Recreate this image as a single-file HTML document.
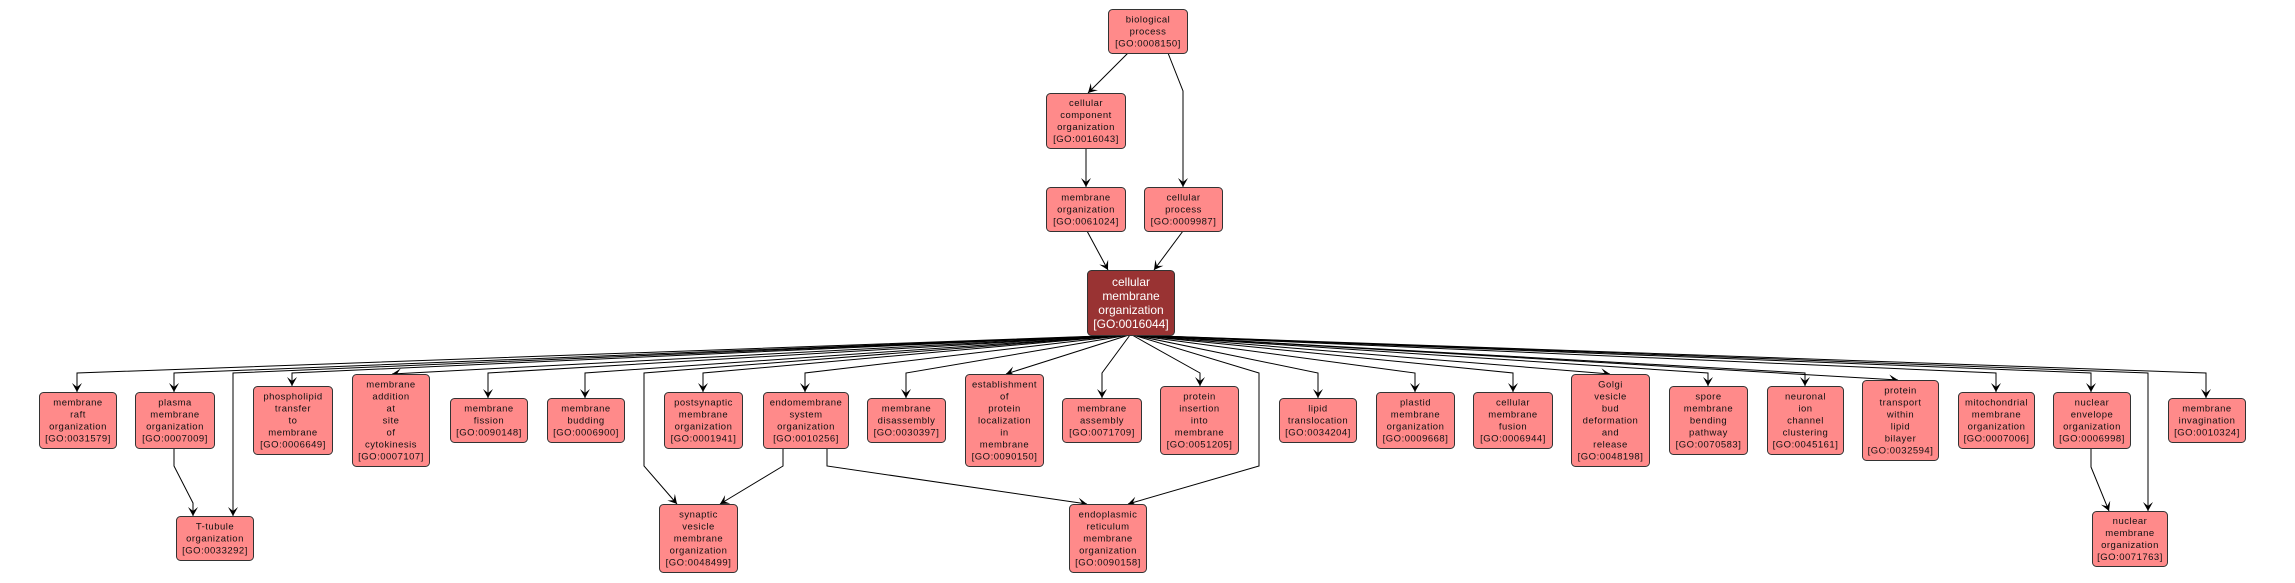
<!DOCTYPE html>
<html>
<head>
<meta charset="utf-8">
<style>
html,body{margin:0;padding:0;background:#fff;}
svg{display:block;}
.n{fill:#ff8a8a;stroke:#333;stroke-width:1;}
.c{fill:#993333;stroke:#333;stroke-width:1;}
.t{font-family:"Liberation Sans",Arial,sans-serif;font-size:9.5px;letter-spacing:0.5px;fill:#111;text-anchor:middle;}
.tc{font-family:"Liberation Sans",Arial,sans-serif;font-size:12px;fill:#fff;text-anchor:middle;}
.e{fill:none;stroke:#000;stroke-width:1;}
</style>
</head>
<body>
<svg width="2295" height="583" viewBox="0 0 2295 583" xmlns="http://www.w3.org/2000/svg">
<defs>
<marker id="a" markerUnits="userSpaceOnUse" markerWidth="12" markerHeight="12" viewBox="-10 -6 11 12" refX="0" refY="0" orient="auto">
<path d="M0,0 L-9,-5 L-5,0 L-9,5 Z" fill="#000"/>
</marker>
</defs>

<!-- edges top -->
<path class="e" marker-end="url(#a)" d="M1128,53 L1088,93"/>
<path class="e" marker-end="url(#a)" d="M1168,53 L1183,91 L1183,187"/>
<path class="e" marker-end="url(#a)" d="M1086,148 L1086,187"/>
<path class="e" marker-end="url(#a)" d="M1087,231 L1108,270"/>
<path class="e" marker-end="url(#a)" d="M1183,231 L1154,270"/>

<!-- edges from center -->
<path class="e" marker-end="url(#a)" d="M1128,335 L77,373 L77,392"/>
<path class="e" marker-end="url(#a)" d="M1128,335 L174,373 L174,392"/>
<path class="e" marker-end="url(#a)" d="M1128,335 L233,373 L233,516"/>
<path class="e" marker-end="url(#a)" d="M1128,335 L292,373 L292,386"/>
<path class="e" marker-end="url(#a)" d="M1128,335 L392,374"/>
<path class="e" marker-end="url(#a)" d="M1128,335 L488,373 L488,398"/>
<path class="e" marker-end="url(#a)" d="M1128,335 L585,373 L585,398"/>
<path class="e" marker-end="url(#a)" d="M1128,335 L644,373 L644,466 L677,504"/>
<path class="e" marker-end="url(#a)" d="M1128,335 L703,373 L703,392"/>
<path class="e" marker-end="url(#a)" d="M1128,335 L805,373 L805,392"/>
<path class="e" marker-end="url(#a)" d="M1129,335 L906,373 L906,398"/>
<path class="e" marker-end="url(#a)" d="M1129,335 L1006,374"/>
<path class="e" marker-end="url(#a)" d="M1130,335 L1102,373 L1102,398"/>
<path class="e" marker-end="url(#a)" d="M1132,335 L1200,373 L1200,386"/>
<path class="e" marker-end="url(#a)" d="M1133,335 L1259,373 L1259,466 L1128,504"/>
<path class="e" marker-end="url(#a)" d="M1133,335 L1318,373 L1318,398"/>
<path class="e" marker-end="url(#a)" d="M1133,335 L1415,373 L1415,392"/>
<path class="e" marker-end="url(#a)" d="M1133,335 L1513,373 L1513,392"/>
<path class="e" marker-end="url(#a)" d="M1133,335 L1610,374"/>
<path class="e" marker-end="url(#a)" d="M1133,335 L1708,373 L1708,386"/>
<path class="e" marker-end="url(#a)" d="M1133,335 L1805,373 L1805,386"/>
<path class="e" marker-end="url(#a)" d="M1133,335 L1898,380"/>
<path class="e" marker-end="url(#a)" d="M1133,335 L1996,373 L1996,392"/>
<path class="e" marker-end="url(#a)" d="M1133,335 L2091,373 L2091,392"/>
<path class="e" marker-end="url(#a)" d="M1133,335 L2148,373 L2148,511"/>
<path class="e" marker-end="url(#a)" d="M1133,335 L2206,373 L2206,398"/>

<!-- other edges -->
<path class="e" marker-end="url(#a)" d="M174,448 L174,466 L193,503 L193,516"/>
<path class="e" marker-end="url(#a)" d="M783,448 L783,466 L720,504"/>
<path class="e" marker-end="url(#a)" d="M827,448 L827,466 L1087,504"/>
<path class="e" marker-end="url(#a)" d="M2091,448 L2091,467 L2109,511"/>

<!-- top nodes -->
<rect class="n" x="1108.5" y="9.5" width="79" height="44" rx="4"/>
<text class="t" y="22.5"><tspan x="1148">biological</tspan><tspan x="1148" dy="12">process</tspan><tspan x="1148" dy="12">[GO:0008150]</tspan></text>

<rect class="n" x="1046.5" y="93.5" width="79" height="55" rx="4"/>
<text class="t" y="106"><tspan x="1086">cellular</tspan><tspan x="1086" dy="12">component</tspan><tspan x="1086" dy="12">organization</tspan><tspan x="1086" dy="12">[GO:0016043]</tspan></text>

<rect class="n" x="1046.5" y="187.5" width="79" height="44" rx="4"/>
<text class="t" y="200.5"><tspan x="1086">membrane</tspan><tspan x="1086" dy="12">organization</tspan><tspan x="1086" dy="12">[GO:0061024]</tspan></text>

<rect class="n" x="1144.5" y="187.5" width="78" height="44" rx="4"/>
<text class="t" y="200.5"><tspan x="1183.5">cellular</tspan><tspan x="1183.5" dy="12">process</tspan><tspan x="1183.5" dy="12">[GO:0009987]</tspan></text>

<rect class="c" x="1087.5" y="270.5" width="87" height="65" rx="4"/>
<text class="tc" y="286"><tspan x="1131">cellular</tspan><tspan x="1131" dy="14">membrane</tspan><tspan x="1131" dy="14">organization</tspan><tspan x="1131" dy="14">[GO:0016044]</tspan></text>

<!-- level 2 -->
<rect class="n" x="39.5" y="392.5" width="77" height="56" rx="4"/>
<text class="t" y="405.5"><tspan x="78">membrane</tspan><tspan x="78" dy="12">raft</tspan><tspan x="78" dy="12">organization</tspan><tspan x="78" dy="12">[GO:0031579]</tspan></text>

<rect class="n" x="135.5" y="392.5" width="79" height="56" rx="4"/>
<text class="t" y="405.5"><tspan x="175">plasma</tspan><tspan x="175" dy="12">membrane</tspan><tspan x="175" dy="12">organization</tspan><tspan x="175" dy="12">[GO:0007009]</tspan></text>

<rect class="n" x="253.5" y="386.5" width="79" height="68" rx="4"/>
<text class="t" y="399.5"><tspan x="293">phospholipid</tspan><tspan x="293" dy="12">transfer</tspan><tspan x="293" dy="12">to</tspan><tspan x="293" dy="12">membrane</tspan><tspan x="293" dy="12">[GO:0006649]</tspan></text>

<rect class="n" x="352.5" y="374.5" width="77" height="92" rx="4"/>
<text class="t" y="387.5"><tspan x="391">membrane</tspan><tspan x="391" dy="12">addition</tspan><tspan x="391" dy="12">at</tspan><tspan x="391" dy="12">site</tspan><tspan x="391" dy="12">of</tspan><tspan x="391" dy="12">cytokinesis</tspan><tspan x="391" dy="12">[GO:0007107]</tspan></text>

<rect class="n" x="450.5" y="398.5" width="77" height="44" rx="4"/>
<text class="t" y="411.5"><tspan x="489">membrane</tspan><tspan x="489" dy="12">fission</tspan><tspan x="489" dy="12">[GO:0090148]</tspan></text>

<rect class="n" x="547.5" y="398.5" width="77" height="44" rx="4"/>
<text class="t" y="411.5"><tspan x="586">membrane</tspan><tspan x="586" dy="12">budding</tspan><tspan x="586" dy="12">[GO:0006900]</tspan></text>

<rect class="n" x="664.5" y="392.5" width="78" height="56" rx="4"/>
<text class="t" y="405.5"><tspan x="703.5">postsynaptic</tspan><tspan x="703.5" dy="12">membrane</tspan><tspan x="703.5" dy="12">organization</tspan><tspan x="703.5" dy="12">[GO:0001941]</tspan></text>

<rect class="n" x="763.5" y="392.5" width="85" height="56" rx="4"/>
<text class="t" y="405.5"><tspan x="806">endomembrane</tspan><tspan x="806" dy="12">system</tspan><tspan x="806" dy="12">organization</tspan><tspan x="806" dy="12">[GO:0010256]</tspan></text>

<rect class="n" x="867.5" y="398.5" width="78" height="44" rx="4"/>
<text class="t" y="411.5"><tspan x="906.5">membrane</tspan><tspan x="906.5" dy="12">disassembly</tspan><tspan x="906.5" dy="12">[GO:0030397]</tspan></text>

<rect class="n" x="965.5" y="374.5" width="78" height="92" rx="4"/>
<text class="t" y="387.5"><tspan x="1004.5">establishment</tspan><tspan x="1004.5" dy="12">of</tspan><tspan x="1004.5" dy="12">protein</tspan><tspan x="1004.5" dy="12">localization</tspan><tspan x="1004.5" dy="12">in</tspan><tspan x="1004.5" dy="12">membrane</tspan><tspan x="1004.5" dy="12">[GO:0090150]</tspan></text>

<rect class="n" x="1062.5" y="398.5" width="79" height="44" rx="4"/>
<text class="t" y="411.5"><tspan x="1102">membrane</tspan><tspan x="1102" dy="12">assembly</tspan><tspan x="1102" dy="12">[GO:0071709]</tspan></text>

<rect class="n" x="1160.5" y="386.5" width="78" height="68" rx="4"/>
<text class="t" y="399.5"><tspan x="1199.5">protein</tspan><tspan x="1199.5" dy="12">insertion</tspan><tspan x="1199.5" dy="12">into</tspan><tspan x="1199.5" dy="12">membrane</tspan><tspan x="1199.5" dy="12">[GO:0051205]</tspan></text>

<rect class="n" x="1279.5" y="398.5" width="77" height="44" rx="4"/>
<text class="t" y="411.5"><tspan x="1318">lipid</tspan><tspan x="1318" dy="12">translocation</tspan><tspan x="1318" dy="12">[GO:0034204]</tspan></text>

<rect class="n" x="1376.5" y="392.5" width="78" height="56" rx="4"/>
<text class="t" y="405.5"><tspan x="1415.5">plastid</tspan><tspan x="1415.5" dy="12">membrane</tspan><tspan x="1415.5" dy="12">organization</tspan><tspan x="1415.5" dy="12">[GO:0009668]</tspan></text>

<rect class="n" x="1473.5" y="392.5" width="79" height="56" rx="4"/>
<text class="t" y="405.5"><tspan x="1513">cellular</tspan><tspan x="1513" dy="12">membrane</tspan><tspan x="1513" dy="12">fusion</tspan><tspan x="1513" dy="12">[GO:0006944]</tspan></text>

<rect class="n" x="1571.5" y="374.5" width="78" height="92" rx="4"/>
<text class="t" y="387.5"><tspan x="1610.5">Golgi</tspan><tspan x="1610.5" dy="12">vesicle</tspan><tspan x="1610.5" dy="12">bud</tspan><tspan x="1610.5" dy="12">deformation</tspan><tspan x="1610.5" dy="12">and</tspan><tspan x="1610.5" dy="12">release</tspan><tspan x="1610.5" dy="12">[GO:0048198]</tspan></text>

<rect class="n" x="1669.5" y="386.5" width="78" height="68" rx="4"/>
<text class="t" y="399.5"><tspan x="1708.5">spore</tspan><tspan x="1708.5" dy="12">membrane</tspan><tspan x="1708.5" dy="12">bending</tspan><tspan x="1708.5" dy="12">pathway</tspan><tspan x="1708.5" dy="12">[GO:0070583]</tspan></text>

<rect class="n" x="1767.5" y="386.5" width="76" height="68" rx="4"/>
<text class="t" y="399.5"><tspan x="1805.5">neuronal</tspan><tspan x="1805.5" dy="12">ion</tspan><tspan x="1805.5" dy="12">channel</tspan><tspan x="1805.5" dy="12">clustering</tspan><tspan x="1805.5" dy="12">[GO:0045161]</tspan></text>

<rect class="n" x="1862.5" y="380.5" width="76" height="80" rx="4"/>
<text class="t" y="393.5"><tspan x="1900.5">protein</tspan><tspan x="1900.5" dy="12">transport</tspan><tspan x="1900.5" dy="12">within</tspan><tspan x="1900.5" dy="12">lipid</tspan><tspan x="1900.5" dy="12">bilayer</tspan><tspan x="1900.5" dy="12">[GO:0032594]</tspan></text>

<rect class="n" x="1958.5" y="392.5" width="76" height="56" rx="4"/>
<text class="t" y="405.5"><tspan x="1996.5">mitochondrial</tspan><tspan x="1996.5" dy="12">membrane</tspan><tspan x="1996.5" dy="12">organization</tspan><tspan x="1996.5" dy="12">[GO:0007006]</tspan></text>

<rect class="n" x="2053.5" y="392.5" width="77" height="56" rx="4"/>
<text class="t" y="405.5"><tspan x="2092">nuclear</tspan><tspan x="2092" dy="12">envelope</tspan><tspan x="2092" dy="12">organization</tspan><tspan x="2092" dy="12">[GO:0006998]</tspan></text>

<rect class="n" x="2168.5" y="398.5" width="77" height="44" rx="4"/>
<text class="t" y="411.5"><tspan x="2207">membrane</tspan><tspan x="2207" dy="12">invagination</tspan><tspan x="2207" dy="12">[GO:0010324]</tspan></text>

<!-- level 3 -->
<rect class="n" x="176.5" y="516.5" width="77" height="44" rx="4"/>
<text class="t" y="529.5"><tspan x="215">T-tubule</tspan><tspan x="215" dy="12">organization</tspan><tspan x="215" dy="12">[GO:0033292]</tspan></text>

<rect class="n" x="659.5" y="504.5" width="78" height="68" rx="4"/>
<text class="t" y="517.5"><tspan x="698.5">synaptic</tspan><tspan x="698.5" dy="12">vesicle</tspan><tspan x="698.5" dy="12">membrane</tspan><tspan x="698.5" dy="12">organization</tspan><tspan x="698.5" dy="12">[GO:0048499]</tspan></text>

<rect class="n" x="1069.5" y="504.5" width="77" height="68" rx="4"/>
<text class="t" y="517.5"><tspan x="1108">endoplasmic</tspan><tspan x="1108" dy="12">reticulum</tspan><tspan x="1108" dy="12">membrane</tspan><tspan x="1108" dy="12">organization</tspan><tspan x="1108" dy="12">[GO:0090158]</tspan></text>

<rect class="n" x="2092.5" y="511.5" width="75" height="55" rx="4"/>
<text class="t" y="524"><tspan x="2130">nuclear</tspan><tspan x="2130" dy="12">membrane</tspan><tspan x="2130" dy="12">organization</tspan><tspan x="2130" dy="12">[GO:0071763]</tspan></text>
</svg>
</body>
</html>
